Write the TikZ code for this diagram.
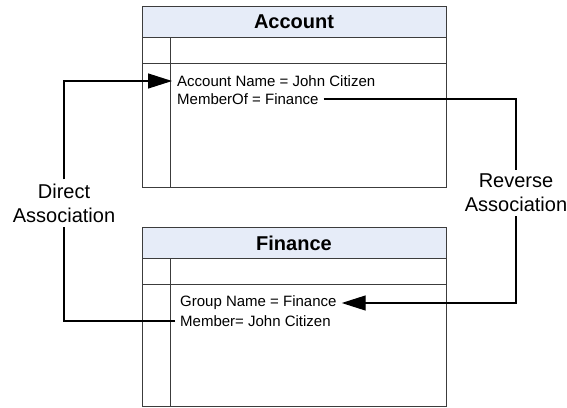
\documentclass[tikz,border=0pt]{standalone}
\usepackage{fontspec}
\setmainfont{Liberation Sans}
\usetikzlibrary{arrows.meta}
\definecolor{hdr}{RGB}{230,236,248}
\definecolor{boxline}{RGB}{60,60,60}
\tikzset{
  boxedge/.style={draw=boxline, line width=0.9pt},
  title/.style={font=\fontsize{20}{24}\selectfont\bfseries},
  attr/.style={anchor=west, inner xsep=5pt, inner ysep=0pt, font=\fontsize{15}{18}\selectfont},
  lbl/.style={align=center, fill=white, inner xsep=1pt, inner ysep=4pt, font=\fontsize{20}{24}\selectfont},
  conn/.style={line width=1.3pt},
  arr/.style={conn, -{Triangle[length=24pt,width=15pt]}}
}
\begin{document}
\begin{tikzpicture}[x=1pt,y=-1pt]
\useasboundingbox (0,0) rectangle (567,407);
% Account box
\fill[hdr] (142,6) rectangle (446,37);
\draw[boxedge] (142,6) rectangle (446,187);
\draw[boxedge] (142,37) -- (446,37);
\draw[boxedge] (142,63) -- (446,63);
\draw[boxedge] (170,37) -- (170,187);
\node[title] (acct) at (294,22) {Account};
% Finance box
\fill[hdr] (142,227) rectangle (446,258);
\draw[boxedge] (142,227) rectangle (446,406);
\draw[boxedge] (142,258) -- (446,258);
\draw[boxedge] (142,284) -- (446,284);
\draw[boxedge] (170,258) -- (170,406);
\node[title] (fin) at (294,243) {Finance};
% attributes
\node[attr] (accname) at (172,81) {Account Name = John Citizen};
\node[attr] (memof) at (172,99) {MemberOf = Finance};
\node[attr] (grpname) at (175,303) {Group Name = Finance};
\node[attr] (member) at (175,321) {Member= John Citizen};
% labels
\node[lbl] (dlabel) at (64,203) {Direct\\Association};
\node[lbl] (rlabel) at (516,193) {Reverse\\Association};
% connectors
\draw[conn] (member.west) -| (dlabel.south);
\draw[arr] (dlabel.north) |- (accname.west);
\draw[conn] (memof.east) -| (rlabel.north);
\draw[arr] (rlabel.south) |- (grpname.east);
\end{tikzpicture}
\end{document}
